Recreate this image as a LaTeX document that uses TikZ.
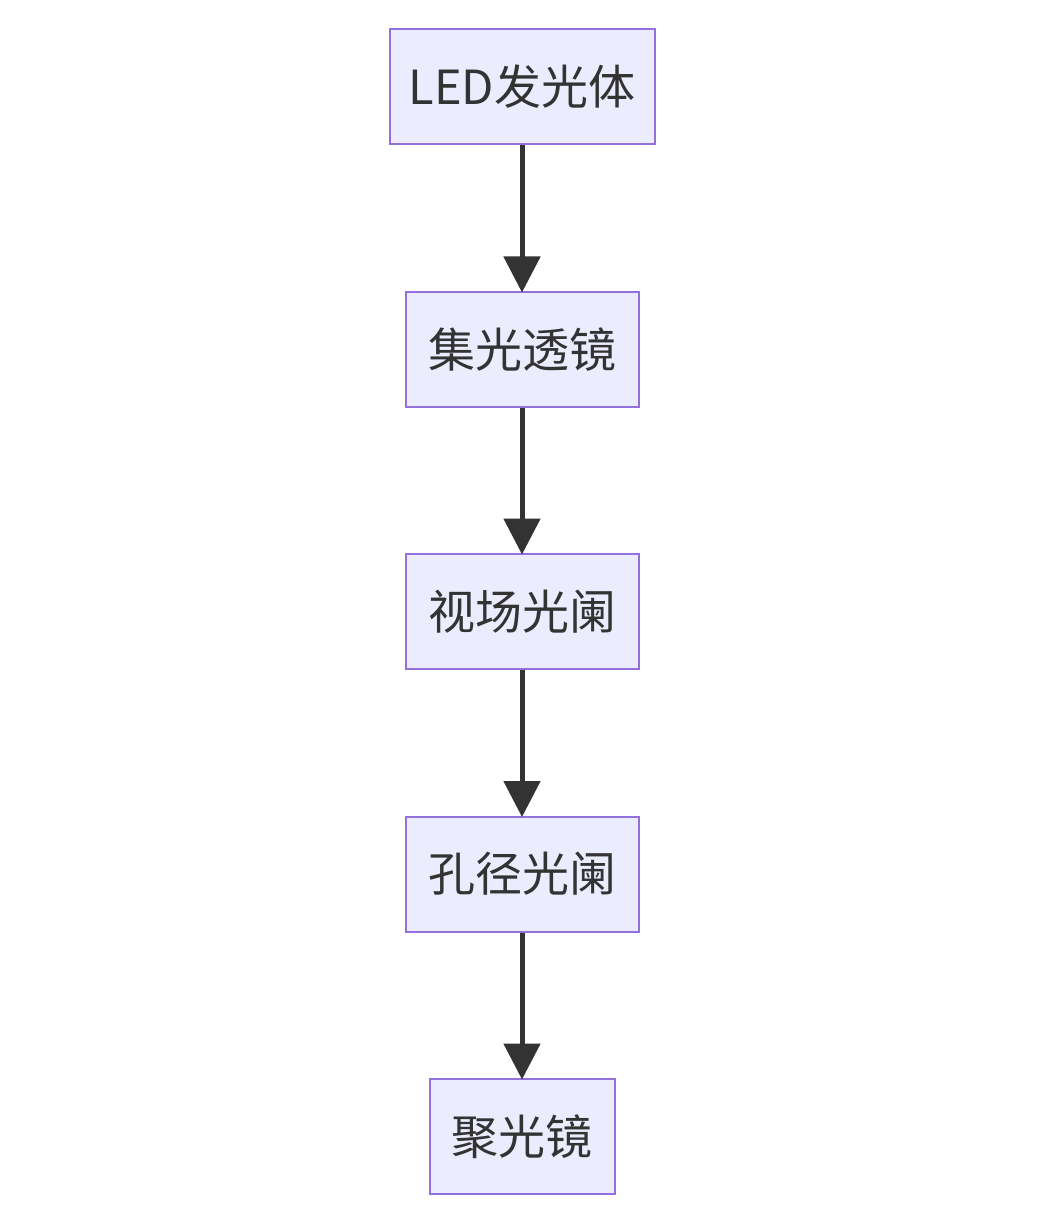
\documentclass[tikz,border=0pt]{standalone}
\usepackage{fontspec}
\setmainfont{Noto Sans CJK SC}
\usetikzlibrary{arrows.meta}
\definecolor{boxfill}{HTML}{ECECFF}
\definecolor{boxline}{HTML}{9370DB}
\definecolor{ink}{HTML}{333333}
\begin{document}
\begin{tikzpicture}[x=1pt,y=-1pt,
  box/.style={draw=boxline,fill=boxfill,line width=2pt,inner sep=0pt,
    minimum height=115pt,text=ink,font=\fontsize{47}{56}\selectfont},
  flow/.style={draw=ink,line width=5pt,shorten >=-1.5pt,-{Triangle[length=36pt,width=36pt]}}]
\useasboundingbox (0,0) rectangle (1056,1222);
\node[box,minimum width=265pt] (a) at (522,87) {LED发光体};
\node[box,minimum width=233pt] (b) at (522,349.5) {集光透镜};
\node[box,minimum width=233pt] (c) at (522,611.5) {视场光阑};
\node[box,minimum width=233pt] (d) at (522,874) {孔径光阑};
\node[box,minimum width=185pt] (e) at (522,1136.5) {聚光镜};
\draw[flow] (a) -- (b);
\draw[flow] (b) -- (c);
\draw[flow] (c) -- (d);
\draw[flow] (d) -- (e);
\end{tikzpicture}
\end{document}
